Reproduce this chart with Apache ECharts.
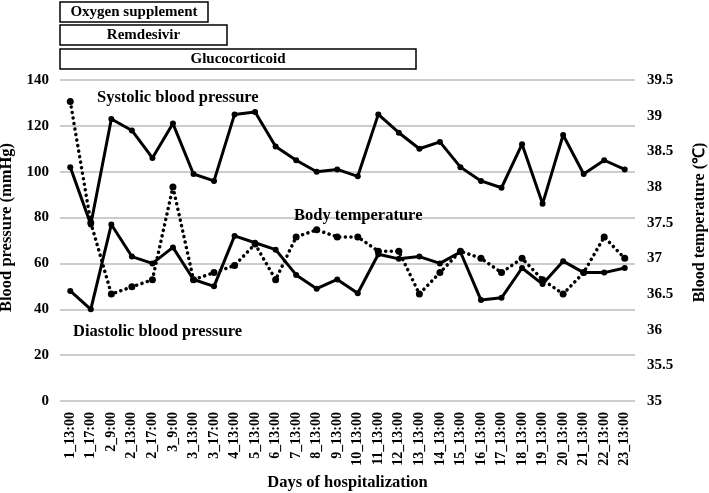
<!DOCTYPE html>
<html>
<head>
<meta charset="utf-8">
<script src="https://cdn.jsdelivr.net/npm/echarts@6/dist/echarts.min.js"></script>
<style>html,body{margin:0;padding:0;background:#fff;}#c{width:709px;height:493px;}</style>
</head>
<body>
<div id="c"></div>
<script>
const categories = ['1_13:00','1_17:00','2_9:00','2_13:00','2_17:00','3_9:00','3_13:00','3_17:00',
  '4_13:00','5_13:00','6_13:00','7_13:00','8_13:00','9_13:00','10_13:00','11_13:00','12_13:00',
  '13_13:00','14_13:00','15_13:00','16_13:00','17_13:00','18_13:00','19_13:00','20_13:00',
  '21_13:00','22_13:00','23_13:00'];
const systolic = [102,77,123,118,106,121,99,96,125,126,111,105,100,101,98,125,117,110,113,102,96,93,112,86,116,99,105,101];
const diastolic = [48,40,77,63,60,67,53,50,72,69,66,55,49,53,47,64,62,63,60,65,44,45,58,51,61,56,56,58];
const temperature = [39.2,37.5,36.5,36.6,36.7,38.0,36.7,36.8,36.9,37.2,36.7,37.3,37.4,37.3,37.3,37.1,37.1,36.5,36.8,37.1,37.0,36.8,37.0,36.7,36.5,36.8,37.3,37.0];
const leftTicks = {min:0, max:140, interval:20};
const rightTicks = {min:35, max:39.5, interval:0.5};
const therapies = ['Oxygen supplement','Remdesivir','Glucocorticoid'];
const annotations = ['Systolic blood pressure','Body temperature','Diastolic blood pressure'];

const FONT = '"Liberation Serif", "Times New Roman", serif';
const chart = echarts.init(document.getElementById('c'));
const lineSolid = {color:'#000', width:3};
const boxStyle = {fill:'#fff', stroke:'#000', lineWidth:1.5};
const boxText = {fontFamily:FONT, fontWeight:'bold', fontSize:15, fill:'#000'};
function box(x, y, w, h, text) {
  return {type:'group', children:[
    {type:'rect', shape:{x:x, y:y, width:w, height:h}, style:boxStyle, z:10},
    {type:'text', x:x + w/2, y:y + h/2 + 0.5, style:Object.assign({text:text, align:'center', verticalAlign:'middle'}, boxText), z:11}
  ]};
}
const annStyle = {fontFamily:FONT, fontWeight:'bold', fontSize:16.5, fill:'#000'};
chart.setOption({
  animation:false,
  grid:{left:60, right:74, top:80, bottom:92, containLabel:false, outerBoundsMode:'none'},
  xAxis:{type:'category', data:categories, boundaryGap:true,
    name:'Days of hospitalization', nameLocation:'middle', nameGap:73,
    nameTextStyle:{fontFamily:FONT, fontWeight:'bold', fontSize:16.5, color:'#000'},
    axisLine:{show:false}, axisTick:{show:false},
    axisLabel:{rotate:90, interval:0, margin:11, fontFamily:FONT, fontWeight:'bold', fontSize:14, color:'#000'}},
  yAxis:[
    {type:'value', min:leftTicks.min, max:leftTicks.max, interval:leftTicks.interval,
      name:'Blood pressure (mmHg)', nameLocation:'middle', nameGap:42, nameRotate:90,
      nameTextStyle:{fontFamily:FONT, fontWeight:'bold', fontSize:16.5, color:'#000', padding:[0,0,0,26]},
      axisLine:{show:false}, axisTick:{show:false},
      axisLabel:{margin:11, fontFamily:FONT, fontWeight:'bold', fontSize:15, color:'#000'},
      splitLine:{show:true, lineStyle:{color:'#bdbdbd', width:1.5}}},
    {type:'value', min:rightTicks.min, max:rightTicks.max, interval:rightTicks.interval,
      name:'Blood temperature (\u2103)', nameLocation:'middle', nameGap:57, nameRotate:90,
      nameTextStyle:{fontFamily:FONT, fontWeight:'bold', fontSize:16, color:'#000', padding:[0,0,0,36]},
      axisLine:{show:false}, axisTick:{show:false},
      axisLabel:{margin:12, fontFamily:FONT, fontWeight:'bold', fontSize:15, color:'#000'},
      splitLine:{show:false}}
  ],
  series:[
    {name:'Systolic', type:'line', data:systolic, yAxisIndex:0, symbol:'circle', symbolSize:6,
      lineStyle:lineSolid, itemStyle:{color:'#000'}},
    {name:'Diastolic', type:'line', data:diastolic, yAxisIndex:0, symbol:'circle', symbolSize:6,
      lineStyle:lineSolid, itemStyle:{color:'#000'}},
    {name:'Temperature', type:'line', data:temperature, yAxisIndex:1, symbol:'circle', symbolSize:7,
      lineStyle:{color:'#000', width:3.5, type:[0.1,5.5], cap:'round'}, itemStyle:{color:'#000'}}
  ],
  graphic:[
    box(60, 2, 148, 20, therapies[0]),
    box(60, 25, 167, 20, therapies[1]),
    box(60, 49, 356, 20, therapies[2]),
    {type:'text', x:97, y:98, style:Object.assign({text:annotations[0], verticalAlign:'middle'}, annStyle), z:5},
    {type:'text', x:294, y:216, style:Object.assign({text:annotations[1], verticalAlign:'middle'}, annStyle), z:5},
    {type:'text', x:73, y:332, style:Object.assign({text:annotations[2], verticalAlign:'middle'}, annStyle), z:5}
  ]
});
</script>
</body>
</html>
